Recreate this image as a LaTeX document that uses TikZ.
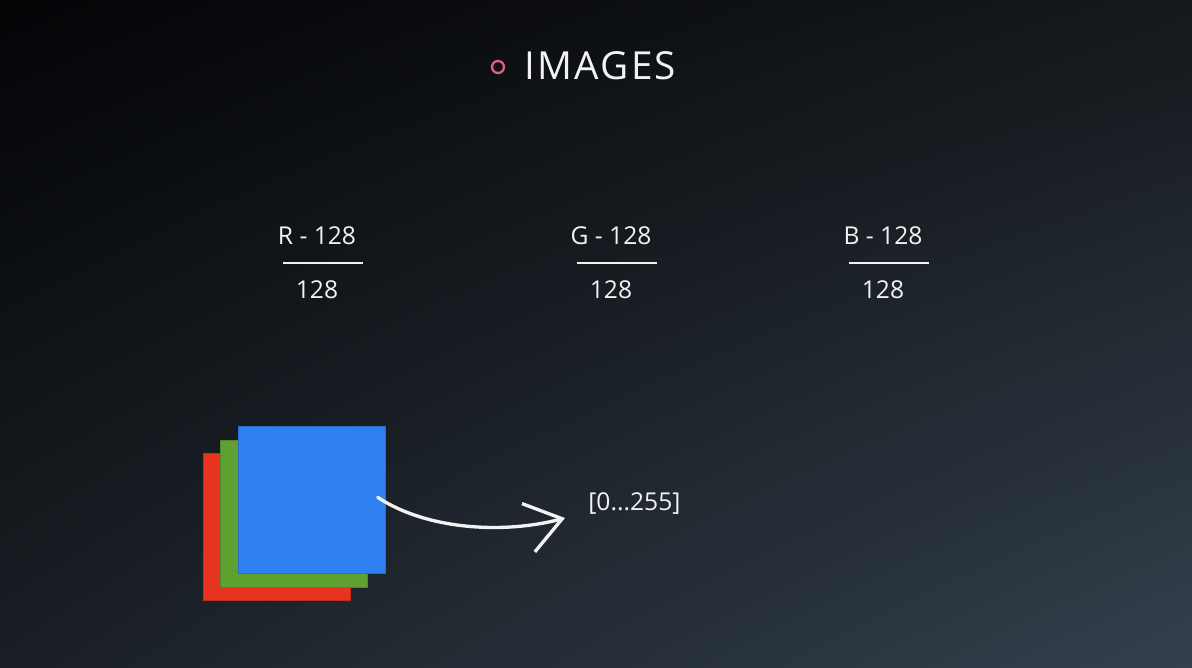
\documentclass[tikz,border=0pt]{standalone}
\usepackage{fontspec}
\setmainfont{Open Sans}
\usepackage{tikz}
\usetikzlibrary{positioning,arrows.meta,shadings}

\definecolor{bgTopLeft}{HTML}{030406}
\definecolor{bgTopRight}{HTML}{15181C}
\definecolor{bgBottomLeft}{HTML}{1A1F25}
\definecolor{bgBottomRight}{HTML}{33404D}
\definecolor{inkWhite}{HTML}{F2F2F2}
\definecolor{bulletPink}{HTML}{E0607E}
\definecolor{layerRed}{HTML}{E8331F}
\definecolor{layerGreen}{HTML}{5FA131}
\definecolor{layerBlue}{HTML}{2F81F2}

\begin{document}
\begin{tikzpicture}[
x=0.02cm, y=-0.02cm,
txt/.style={text=inkWhite, inner sep=0pt, font=\fontsize{14}{17}\selectfont},
layer/.style={anchor=north west, inner sep=0pt, minimum width=2.94cm, minimum height=2.94cm, line width=0.4pt},
fracline/.style={draw=inkWhite, line width=1.1pt},
arrow/.style={-{Straight Barb[length=7mm, width=10mm]}, line width=1.9pt, inkWhite, line cap=round, line join=round}
]
% background
\shade[upper left=bgTopLeft, upper right=bgTopRight, lower left=bgBottomLeft, lower right=bgBottomRight]
  (0,0) rectangle (1192,668);
\useasboundingbox (0,0) rectangle (1192,668);

% title
\node[circle, draw=bulletPink, line width=1.3pt, minimum size=0.24cm, inner sep=0pt] (bullet) at (498,67) {};
\node[txt, anchor=west, font=\fontsize{22}{26}\selectfont\addfontfeature{LetterSpace=6}] (title) at (524,66) {IMAGES};

% normalised channels
\foreach \cx/\ch in {317/R, 611/G, 883/B}{
  \node[txt] (num\ch) at (\cx,236) {\ch{} - 128};
  \node[txt] (den\ch) at (\cx,290) {128};
  \draw[fracline] (\cx-34,263) -- (\cx+46,263);
}

% colour layers
\node[layer, fill=layerRed, draw=layerRed!85!black] (red) at (203,453) {};
\node[layer, fill=layerGreen, draw=layerGreen!85!black] (green) at (220,440) {};
\node[layer, fill=layerBlue, draw=layerBlue!85!black] (blue) at (238,426) {};

% value range
\node[txt, anchor=west] (range) at (588,504) {[0...255]};
\coordinate (src) at ([xshift=-0.16cm, yshift=0.05cm]blue.east);
\coordinate (tip) at ([xshift=-0.46cm, yshift=-0.28cm]range.west);
\draw[arrow] (src) .. controls +(50,33) and +(-60,16) .. (tip);
\end{tikzpicture}
\end{document}
